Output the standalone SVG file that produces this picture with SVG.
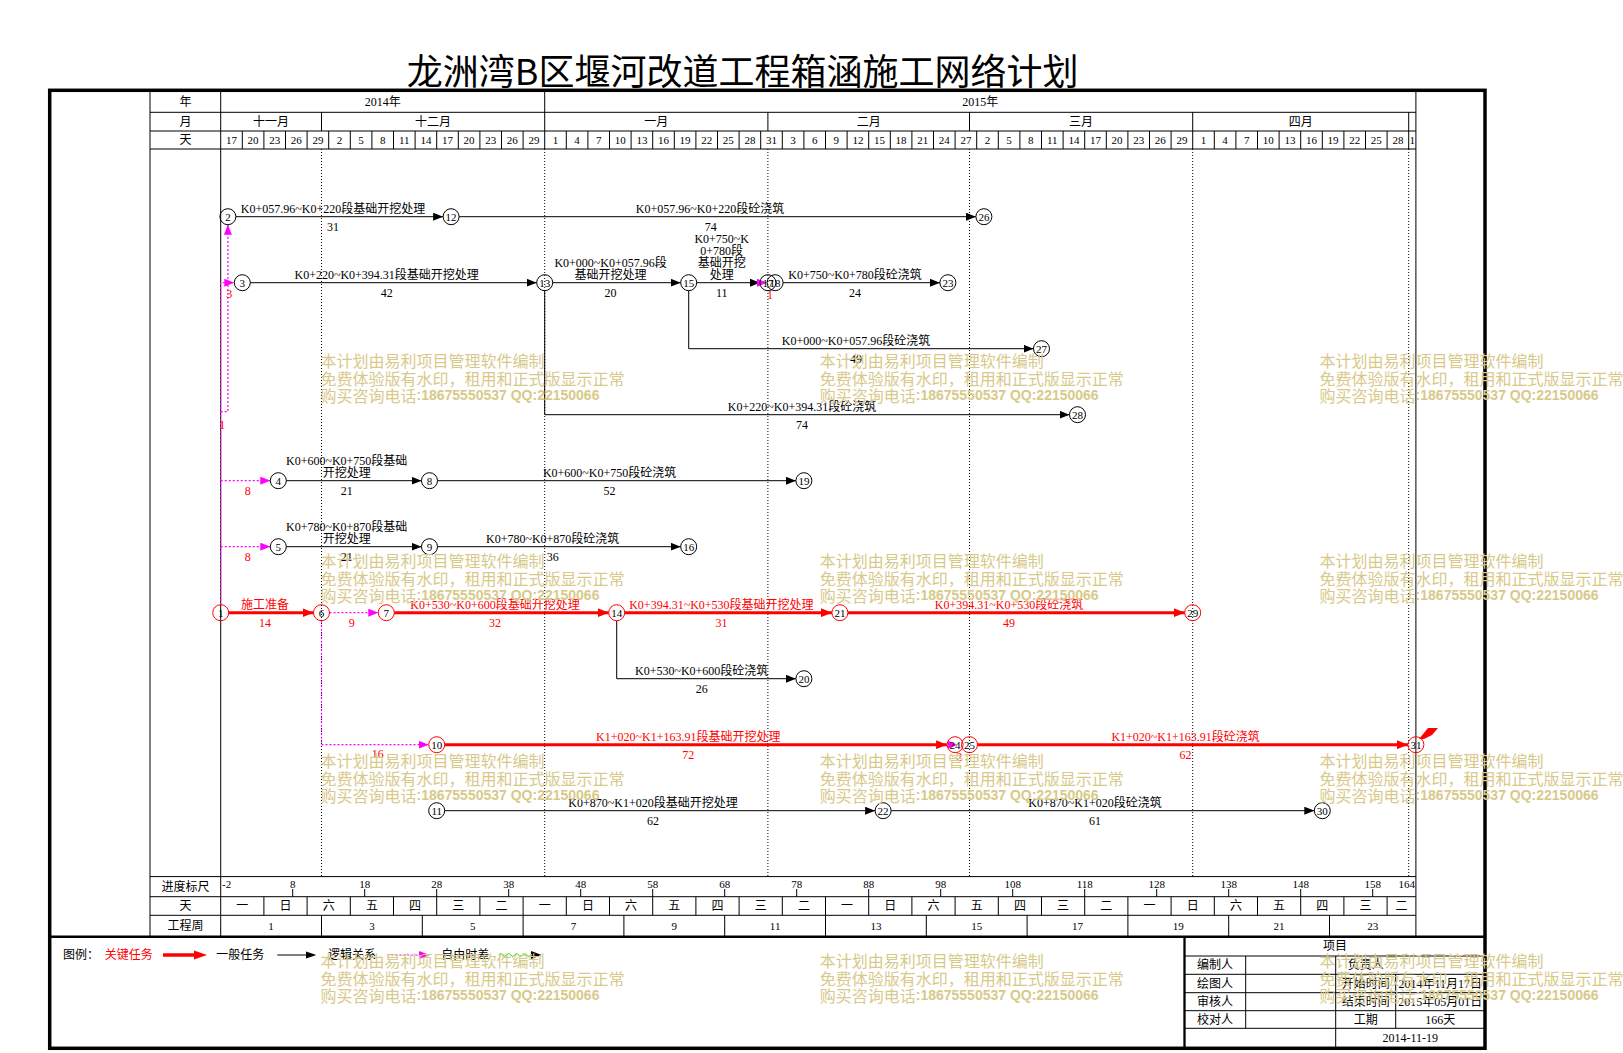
<svg xmlns="http://www.w3.org/2000/svg" width="1623" height="1053" viewBox="0 0 1623 1053">
<style>
.t{font-family:"Liberation Serif","Noto Sans CJK SC",serif;font-size:12px;text-anchor:middle;dominant-baseline:central;fill:#000}
.s{font-size:11px}
.l{text-anchor:start}
.e{text-anchor:end}
.r{fill:#ff0000}
.ln{fill:none;stroke:#000;stroke-width:1}
.dot{fill:none;stroke:#000;stroke-width:1;stroke-dasharray:1 2}
.nb{fill:none;stroke:#000;stroke-width:1;marker-end:url(#ab)}
.cr{fill:none;stroke:#ff0000;stroke-width:3;marker-end:url(#ar)}
.pk{fill:none;stroke:#ff00ff;stroke-width:1.2;stroke-dasharray:2 2;marker-end:url(#ap)}
.nd circle{fill:none;stroke:#000;stroke-width:1}
.nd.c circle{stroke:#ff0000}
.nd text{font-family:"Liberation Serif",serif;font-size:11px;text-anchor:middle;dominant-baseline:central;fill:#000}
.wm{font-family:"Noto Sans CJK SC",sans-serif;font-size:16px;fill:#d8c98a}
.wm tspan.d{font-family:"Liberation Sans",sans-serif;font-weight:bold;font-size:14px}
</style>
<defs>
<marker id="ab" viewBox="0 0 10 8" refX="10" refY="4" markerWidth="10" markerHeight="8" markerUnits="userSpaceOnUse" orient="auto"><path d="M0,0L10,4L0,8z" fill="#000"/></marker>
<marker id="ar" viewBox="0 0 11 9" refX="11" refY="4.5" markerWidth="11" markerHeight="9" markerUnits="userSpaceOnUse" orient="auto"><path d="M0,0L11,4.5L0,9z" fill="#ff0000"/></marker>
<marker id="ap" viewBox="0 0 10 8" refX="10" refY="4" markerWidth="10" markerHeight="8" markerUnits="userSpaceOnUse" orient="auto"><path d="M0,0L10,4L0,8z" fill="#ff00ff"/></marker>
</defs>
<rect width="1623" height="1053" fill="#fff"/>
<text x="742.6" y="68.5" class="t" style="font-size:36px;font-family:'Noto Sans CJK SC',sans-serif">龙洲湾B区堰河改道工程箱涵施工网络计划</text>

<g id="frame">
<rect x="49.7" y="90.3" width="1435.3" height="958" fill="none" stroke="#000" stroke-width="3.5"/>
<path d="M49.7 936.7H1485" stroke="#000" stroke-width="2.5"/>
</g>

<g id="grid">
<path class="ln" d="M150 112.3H1415.9M150 131H1415.9M150 149H1415.9M150 876.6H1415.9M150 896.7H1415.9M150 915.3H1415.9"/>
<path class="ln" d="M150 90V936.7M220.7 90V936.7M1415.9 90V936.7" stroke-width="1.3"/>
<path class="ln" d="M544.7 92V131M321.5 112.3V131M767.9 112.3V131M969.5 112.3V131M1192.7 112.3V131M1408.7 112.3V131"/>
<path class="ln" d="M242.3 131V149M263.9 131V149M285.5 131V149M307.1 131V149M328.7 131V149M350.3 131V149M371.9 131V149M393.5 131V149M415.1 131V149M436.7 131V149M458.3 131V149M479.9 131V149M501.5 131V149M523.1 131V149M544.7 131V149M566.3 131V149M587.9 131V149M609.5 131V149M631.1 131V149M652.7 131V149M674.3 131V149M695.9 131V149M717.5 131V149M739.1 131V149M760.7 131V149M782.3 131V149M803.9 131V149M825.5 131V149M847.1 131V149M868.7 131V149M890.3 131V149M911.9 131V149M933.5 131V149M955.1 131V149M976.7 131V149M998.3 131V149M1019.9 131V149M1041.5 131V149M1063.1 131V149M1084.7 131V149M1106.3 131V149M1127.9 131V149M1149.5 131V149M1171.1 131V149M1192.7 131V149M1214.3 131V149M1235.9 131V149M1257.5 131V149M1279.1 131V149M1300.7 131V149M1322.3 131V149M1343.9 131V149M1365.5 131V149M1387.1 131V149M1408.7 131V149"/>
<path class="dot" d="M321.5 149V876.6M544.7 149V876.6M767.9 149V876.6M969.5 149V876.6M1192.7 149V876.6M1408.7 149V876.6"/>
<path class="ln" d="M292.7 889V896.7M364.7 889V896.7M436.7 889V896.7M508.7 889V896.7M580.7 889V896.7M652.7 889V896.7M724.7 889V896.7M796.7 889V896.7M868.7 889V896.7M940.7 889V896.7M1012.7 889V896.7M1084.7 889V896.7M1156.7 889V896.7M1228.7 889V896.7M1300.7 889V896.7M1372.7 889V896.7"/>
<path class="ln" d="M263.9 896.7V915.3M307.1 896.7V915.3M350.3 896.7V915.3M393.5 896.7V915.3M436.7 896.7V915.3M479.9 896.7V915.3M523.1 896.7V915.3M566.3 896.7V915.3M609.5 896.7V915.3M652.7 896.7V915.3M695.9 896.7V915.3M739.1 896.7V915.3M782.3 896.7V915.3M825.5 896.7V915.3M868.7 896.7V915.3M911.9 896.7V915.3M955.1 896.7V915.3M998.3 896.7V915.3M1041.5 896.7V915.3M1084.7 896.7V915.3M1127.9 896.7V915.3M1171.1 896.7V915.3M1214.3 896.7V915.3M1257.5 896.7V915.3M1300.7 896.7V915.3M1343.9 896.7V915.3M1387.1 896.7V915.3"/>
<path class="ln" d="M321.5 915.3V936.7M422.3 915.3V936.7M523.1 915.3V936.7M623.9 915.3V936.7M724.7 915.3V936.7M825.5 915.3V936.7M926.3 915.3V936.7M1027.1 915.3V936.7M1127.9 915.3V936.7M1228.7 915.3V936.7M1329.5 915.3V936.7"/>
</g>

<g id="header-text">
<text class="t" x="185.4" y="102.3">年</text>
<text class="t" x="185.4" y="121.7">月</text>
<text class="t" x="185.4" y="140">天</text>
<text class="t" x="382.7" y="102.3">2014年</text>
<text class="t" x="980.3" y="102.3">2015年</text>
<text class="t" x="271.1" y="121.7">十一月</text>
<text class="t" x="433.1" y="121.7">十二月</text>
<text class="t" x="656.3" y="121.7">一月</text>
<text class="t" x="868.7" y="121.7">二月</text>
<text class="t" x="1081.1" y="121.7">三月</text>
<text class="t" x="1300.7" y="121.7">四月</text>
<g class="t s">
<text class="t s" x="231.5" y="140">17</text><text class="t s" x="253.1" y="140">20</text><text class="t s" x="274.7" y="140">23</text><text class="t s" x="296.3" y="140">26</text><text class="t s" x="317.9" y="140">29</text>
<text class="t s" x="339.5" y="140">2</text><text class="t s" x="361.1" y="140">5</text><text class="t s" x="382.7" y="140">8</text><text class="t s" x="404.3" y="140">11</text><text class="t s" x="425.9" y="140">14</text><text class="t s" x="447.5" y="140">17</text><text class="t s" x="469.1" y="140">20</text><text class="t s" x="490.7" y="140">23</text><text class="t s" x="512.3" y="140">26</text><text class="t s" x="533.9" y="140">29</text>
<text class="t s" x="555.5" y="140">1</text><text class="t s" x="577.1" y="140">4</text><text class="t s" x="598.7" y="140">7</text><text class="t s" x="620.3" y="140">10</text><text class="t s" x="641.9" y="140">13</text><text class="t s" x="663.5" y="140">16</text><text class="t s" x="685.1" y="140">19</text><text class="t s" x="706.7" y="140">22</text><text class="t s" x="728.3" y="140">25</text><text class="t s" x="749.9" y="140">28</text><text class="t s" x="771.5" y="140">31</text>
<text class="t s" x="793.1" y="140">3</text><text class="t s" x="814.7" y="140">6</text><text class="t s" x="836.3" y="140">9</text><text class="t s" x="857.9" y="140">12</text><text class="t s" x="879.5" y="140">15</text><text class="t s" x="901.1" y="140">18</text><text class="t s" x="922.7" y="140">21</text><text class="t s" x="944.3" y="140">24</text><text class="t s" x="965.9" y="140">27</text>
<text class="t s" x="987.5" y="140">2</text><text class="t s" x="1009.1" y="140">5</text><text class="t s" x="1030.7" y="140">8</text><text class="t s" x="1052.3" y="140">11</text><text class="t s" x="1073.9" y="140">14</text><text class="t s" x="1095.5" y="140">17</text><text class="t s" x="1117.1" y="140">20</text><text class="t s" x="1138.7" y="140">23</text><text class="t s" x="1160.3" y="140">26</text><text class="t s" x="1181.9" y="140">29</text>
<text class="t s" x="1203.5" y="140">1</text><text class="t s" x="1225.1" y="140">4</text><text class="t s" x="1246.7" y="140">7</text><text class="t s" x="1268.3" y="140">10</text><text class="t s" x="1289.9" y="140">13</text><text class="t s" x="1311.5" y="140">16</text><text class="t s" x="1333.1" y="140">19</text><text class="t s" x="1354.7" y="140">22</text><text class="t s" x="1376.3" y="140">25</text><text class="t s" x="1397.9" y="140">28</text>
<text class="t s" x="1412.3" y="140">1</text>
</g>
</g>

<g id="footer-text">
<text class="t" x="185.4" y="886.7">进度标尺</text>
<text class="t" x="185.4" y="906">天</text>
<text class="t" x="185.4" y="926">工程周</text>
<text class="t s l" x="222" y="884">-2</text>
<text class="t s" x="292.7" y="884">8</text><text class="t s" x="364.7" y="884">18</text><text class="t s" x="436.7" y="884">28</text><text class="t s" x="508.7" y="884">38</text><text class="t s" x="580.7" y="884">48</text><text class="t s" x="652.7" y="884">58</text><text class="t s" x="724.7" y="884">68</text><text class="t s" x="796.7" y="884">78</text><text class="t s" x="868.7" y="884">88</text><text class="t s" x="940.7" y="884">98</text><text class="t s" x="1012.7" y="884">108</text><text class="t s" x="1084.7" y="884">118</text><text class="t s" x="1156.7" y="884">128</text><text class="t s" x="1228.7" y="884">138</text><text class="t s" x="1300.7" y="884">148</text><text class="t s" x="1372.7" y="884">158</text>
<text class="t s e" x="1415" y="884">164</text>
<text class="t" x="242.3" y="906">一</text><text class="t" x="285.5" y="906">日</text><text class="t" x="328.7" y="906">六</text><text class="t" x="371.9" y="906">五</text><text class="t" x="415.1" y="906">四</text><text class="t" x="458.3" y="906">三</text><text class="t" x="501.5" y="906">二</text>
<text class="t" x="544.7" y="906">一</text><text class="t" x="587.9" y="906">日</text><text class="t" x="631.1" y="906">六</text><text class="t" x="674.3" y="906">五</text><text class="t" x="717.5" y="906">四</text><text class="t" x="760.7" y="906">三</text><text class="t" x="803.9" y="906">二</text>
<text class="t" x="847.1" y="906">一</text><text class="t" x="890.3" y="906">日</text><text class="t" x="933.5" y="906">六</text><text class="t" x="976.7" y="906">五</text><text class="t" x="1019.9" y="906">四</text><text class="t" x="1063.1" y="906">三</text><text class="t" x="1106.3" y="906">二</text>
<text class="t" x="1149.5" y="906">一</text><text class="t" x="1192.7" y="906">日</text><text class="t" x="1235.9" y="906">六</text><text class="t" x="1279.1" y="906">五</text><text class="t" x="1322.3" y="906">四</text><text class="t" x="1365.5" y="906">三</text><text class="t" x="1401.5" y="906">二</text>
<text class="t s" x="271.1" y="926">1</text><text class="t s" x="371.9" y="926">3</text><text class="t s" x="472.7" y="926">5</text><text class="t s" x="573.5" y="926">7</text><text class="t s" x="674.3" y="926">9</text><text class="t s" x="775.1" y="926">11</text><text class="t s" x="875.9" y="926">13</text><text class="t s" x="976.7" y="926">15</text><text class="t s" x="1077.5" y="926">17</text><text class="t s" x="1178.3" y="926">19</text><text class="t s" x="1279.1" y="926">21</text><text class="t s" x="1372.7" y="926">23</text>
</g>

<g id="connectors">
<path class="nb" d="M235.9 216.7H443.1"/>
<path class="nb" d="M459.1 216.7H975.9"/>
<path class="nb" d="M250.3 282.7H536.7"/>
<path class="nb" d="M552.7 282.7H680.7"/>
<path class="nb" d="M696.7 282.7H760"/>
<path class="nb" d="M783.1 282.7H939.9"/>
<path class="nb" d="M688.7 290.7V348.7H1033.5"/>
<path class="nb" d="M544.7 290.7V414.7H1069.5"/>
<path class="nb" d="M286.3 480.7H421.5"/>
<path class="nb" d="M437.5 480.7H795.9"/>
<path class="nb" d="M286.3 546.7H421.5"/>
<path class="nb" d="M437.5 546.7H680.7"/>
<path class="nb" d="M616.7 620.7V678.7H795.9"/>
<path class="nb" d="M444.7 810.7H875.1"/>
<path class="nb" d="M891.1 810.7H1314.3"/>
<path class="cr" d="M228.7 612.7H313.5"/>
<path class="cr" d="M394.3 612.7H608.7"/>
<path class="cr" d="M624.7 612.7H831.9"/>
<path class="cr" d="M847.9 612.7H1184.7"/>
<path class="cr" d="M444.7 744.7H947.1"/>
<path class="cr" d="M977.5 744.7H1407.9"/>
<path class="pk" d="M220.7 604.7V282.7H234.3"/>
<path class="pk" d="M220.7 411.7H227.9V224.7"/>
<path class="pk" d="M220.7 480.7H270.3"/>
<path class="pk" d="M220.7 546.7H270.3"/>
<path class="pk" d="M329.5 612.7H378.3"/>
<path class="pk" d="M321.5 620.7V744.7H428.7"/>
<path d="M757 278.7L767 282.7L757 286.7z" fill="#ff00ff"/>
<path d="M948 740.7L957 744.7L948 748.7z" fill="#ff00ff"/>
</g>

<g id="labels">
<text class="t" x="333" y="209">K0+057.96~K0+220段基础开挖处理</text><text class="t" x="333" y="227">31</text>
<text class="t" x="710" y="209">K0+057.96~K0+220段砼浇筑</text><text class="t" x="710.7" y="226.5">74</text>
<text class="t" x="386.7" y="274.5">K0+220~K0+394.31段基础开挖处理</text><text class="t" x="386.7" y="293.3">42</text>
<text class="t" x="610.6" y="262.5">K0+000~K0+057.96段</text><text class="t" x="610.6" y="274.5">基础开挖处理</text><text class="t" x="610.6" y="293.3">20</text>
<text class="t" x="721.7" y="238.5">K0+750~K</text><text class="t" x="721.7" y="250.5">0+780段</text><text class="t" x="721.7" y="262.5">基础开挖</text><text class="t" x="721.7" y="274.5">处理</text><text class="t" x="721.7" y="293.3">11</text>
<text class="t" x="855" y="274.5">K0+750~K0+780段砼浇筑</text><text class="t" x="855" y="293.3">24</text>
<text class="t" x="856" y="340.5">K0+000~K0+057.96段砼浇筑</text><text class="t" x="856" y="359">49</text>
<text class="t" x="802" y="406.5">K0+220~K0+394.31段砼浇筑</text><text class="t" x="802" y="425">74</text>
<text class="t" x="346.7" y="460.5">K0+600~K0+750段基础</text><text class="t" x="346.7" y="472.5">开挖处理</text><text class="t" x="346.7" y="490.5">21</text>
<text class="t" x="609.6" y="472.5">K0+600~K0+750段砼浇筑</text><text class="t" x="609.6" y="490.5">52</text>
<text class="t" x="346.7" y="526.5">K0+780~K0+870段基础</text><text class="t" x="346.7" y="538.5">开挖处理</text><text class="t" x="346.7" y="556.5">21</text>
<text class="t" x="552.7" y="538.5">K0+780~K0+870段砼浇筑</text><text class="t" x="552.7" y="556.5">36</text>
<text class="t r" x="265" y="604.5">施工准备</text><text class="t r" x="265" y="623">14</text>
<text class="t r" x="495" y="604.5">K0+530~K0+600段基础开挖处理</text><text class="t r" x="495" y="623">32</text>
<text class="t r" x="721.4" y="604.5">K0+394.31~K0+530段基础开挖处理</text><text class="t r" x="721.4" y="623">31</text>
<text class="t r" x="1009" y="604.5">K0+394.31~K0+530段砼浇筑</text><text class="t r" x="1009" y="623">49</text>
<text class="t" x="701.7" y="670.5">K0+530~K0+600段砼浇筑</text><text class="t" x="701.7" y="688.5">26</text>
<text class="t r" x="688.3" y="736.5">K1+020~K1+163.91段基础开挖处理</text><text class="t r" x="688.3" y="754.5">72</text>
<text class="t r" x="1185.6" y="736.5">K1+020~K1+163.91段砼浇筑</text><text class="t r" x="1185.6" y="754.5">62</text>
<text class="t" x="653" y="802.5">K0+870~K1+020段基础开挖处理</text><text class="t" x="653" y="820.5">62</text>
<text class="t" x="1095" y="802.5">K0+870~K1+020段砼浇筑</text><text class="t" x="1095" y="820.5">61</text>
<text class="t r" x="229.3" y="294">3</text>
<text class="t r" x="222.3" y="425">1</text>
<text class="t r" x="247.7" y="491">8</text>
<text class="t r" x="247.7" y="557">8</text>
<text class="t r" x="351.7" y="623.3">9</text>
<text class="t r" x="377.7" y="754.3">16</text>
<text class="t r" x="770" y="295">1</text>
<text class="t r" x="959.3" y="756.7">2</text>
</g>

<g id="node-1" class="nd c"><circle cx="220.7" cy="612.7" r="8"/><text x="220.7" y="612.7">1</text></g>
<g id="node-2" class="nd"><circle cx="227.9" cy="216.7" r="8"/><text x="227.9" y="216.7">2</text></g>
<g id="node-3" class="nd"><circle cx="242.3" cy="282.7" r="8"/><text x="242.3" y="282.7">3</text></g>
<g id="node-4" class="nd"><circle cx="278.3" cy="480.7" r="8"/><text x="278.3" y="480.7">4</text></g>
<g id="node-5" class="nd"><circle cx="278.3" cy="546.7" r="8"/><text x="278.3" y="546.7">5</text></g>
<g id="node-6" class="nd c"><circle cx="321.5" cy="612.7" r="8"/><text x="321.5" y="612.7">6</text></g>
<g id="node-7" class="nd c"><circle cx="386.3" cy="612.7" r="8"/><text x="386.3" y="612.7">7</text></g>
<g id="node-8" class="nd"><circle cx="429.5" cy="480.7" r="8"/><text x="429.5" y="480.7">8</text></g>
<g id="node-9" class="nd"><circle cx="429.5" cy="546.7" r="8"/><text x="429.5" y="546.7">9</text></g>
<g id="node-10" class="nd c"><circle cx="436.7" cy="744.7" r="8"/><text x="436.7" y="744.7">10</text></g>
<g id="node-11" class="nd"><circle cx="436.7" cy="810.7" r="8"/><text x="436.7" y="810.7">11</text></g>
<g id="node-12" class="nd"><circle cx="451.1" cy="216.7" r="8"/><text x="451.1" y="216.7">12</text></g>
<g id="node-13" class="nd"><circle cx="544.7" cy="282.7" r="8"/><text x="544.7" y="282.7">13</text></g>
<g id="node-14" class="nd c"><circle cx="616.7" cy="612.7" r="8"/><text x="616.7" y="612.7">14</text></g>
<g id="node-15" class="nd"><circle cx="688.7" cy="282.7" r="8"/><text x="688.7" y="282.7">15</text></g>
<g id="node-16" class="nd"><circle cx="688.7" cy="546.7" r="8"/><text x="688.7" y="546.7">16</text></g>
<g id="node-17" class="nd"><circle cx="767.9" cy="282.7" r="8"/><text x="767.9" y="282.7">17</text></g>
<g id="node-18" class="nd"><circle cx="775.1" cy="282.7" r="8"/><text x="775.1" y="282.7">18</text></g>
<g id="node-19" class="nd"><circle cx="803.9" cy="480.7" r="8"/><text x="803.9" y="480.7">19</text></g>
<g id="node-20" class="nd"><circle cx="803.9" cy="678.7" r="8"/><text x="803.9" y="678.7">20</text></g>
<g id="node-21" class="nd c"><circle cx="839.9" cy="612.7" r="8"/><text x="839.9" y="612.7">21</text></g>
<g id="node-22" class="nd"><circle cx="883.1" cy="810.7" r="8"/><text x="883.1" y="810.7">22</text></g>
<g id="node-23" class="nd"><circle cx="947.9" cy="282.7" r="8"/><text x="947.9" y="282.7">23</text></g>
<g id="node-24" class="nd c"><circle cx="955.1" cy="744.7" r="8"/><text x="955.1" y="744.7">24</text></g>
<g id="node-25" class="nd c"><circle cx="969.5" cy="744.7" r="8"/><text x="969.5" y="744.7">25</text></g>
<g id="node-26" class="nd"><circle cx="983.9" cy="216.7" r="8"/><text x="983.9" y="216.7">26</text></g>
<g id="node-27" class="nd"><circle cx="1041.5" cy="348.7" r="8"/><text x="1041.5" y="348.7">27</text></g>
<g id="node-28" class="nd"><circle cx="1077.5" cy="414.7" r="8"/><text x="1077.5" y="414.7">28</text></g>
<g id="node-29" class="nd c"><circle cx="1192.7" cy="612.7" r="8"/><text x="1192.7" y="612.7">29</text></g>
<g id="node-30" class="nd"><circle cx="1322.3" cy="810.7" r="8"/><text x="1322.3" y="810.7">30</text></g>
<g id="node-31" class="nd c"><circle cx="1415.9" cy="744.7" r="8"/><text x="1415.9" y="744.7">31</text><polygon points="1419,739 1428,728 1438,728 1432,735 1424,739" fill="#ff0000"/></g>

<g id="legend">
<text class="t l" x="63" y="955">图例：</text>
<text class="t l r" x="104.7" y="955">关键任务</text>
<path d="M163 955H195" stroke="#ff0000" stroke-width="3.5"/><path d="M194 950.5L207 955L194 959.5z" fill="#ff0000"/>
<text class="t l" x="216.3" y="955">一般任务</text>
<path d="M277.3 955H307" stroke="#000" stroke-width="1"/><path d="M306 951.5L316.3 955L306 958.5z" fill="#000"/>
<text class="t l" x="328" y="955">逻辑关系</text>
<path d="M387.3 955H420" stroke="#ff00ff" stroke-width="1.2" stroke-dasharray="2 2"/><path d="M419 951L429.7 955L419 959z" fill="#ff00ff"/>
<text class="t l" x="441.3" y="955">自由时差</text>
<path d="M498.7 955q2 -3 4 0t4 0t4 0t4 0t4 0t4 0t4 0t4 0" fill="none" stroke="#00e000" stroke-width="1"/><path d="M531 951L541.7 955L531 959z" fill="#000"/>
</g>

<g id="info">
<path d="M1184.5 936.7V1048.3" stroke="#000" stroke-width="2.3"/>
<path class="ln" d="M1185 956H1485M1185 974.3H1485M1185 992.7H1485M1185 1010.7H1485M1185 1028.3H1485M1245.7 956V1028.3M1335.7 956V1048.3M1395.7 974.3V1028.3"/>
<text class="t" x="1335" y="946">项目</text>
<text class="t" x="1215" y="965.2">编制人</text>
<text class="t" x="1215" y="983.5">绘图人</text>
<text class="t" x="1215" y="1001.7">审核人</text>
<text class="t" x="1215" y="1019.5">校对人</text>
<text class="t" x="1365.7" y="965.2">负责人</text>
<text class="t" x="1365.7" y="983.5">开始时间</text>
<text class="t" x="1440.3" y="983.5">2014年11月17日</text>
<text class="t" x="1365.7" y="1001.7">结束时间</text>
<text class="t" x="1440.3" y="1001.7">2015年05月01日</text>
<text class="t" x="1365.7" y="1019.5">工期</text>
<text class="t" x="1440.3" y="1019.5">166天</text>
<text class="t" x="1410.3" y="1038.3">2014-11-19</text>
</g>

<g id="watermarks" class="wm" dominant-baseline="central">
<g transform="translate(320.5 360)"><text y="0">本计划由易利项目管理软件编制</text><text y="17.5">免费体验版有水印，租用和正式版显示正常</text><text y="35">购买咨询电话<tspan class="d">:18675550537 QQ:22150066</tspan></text></g>
<g transform="translate(819.7 360)"><text y="0">本计划由易利项目管理软件编制</text><text y="17.5">免费体验版有水印，租用和正式版显示正常</text><text y="35">购买咨询电话<tspan class="d">:18675550537 QQ:22150066</tspan></text></g>
<g transform="translate(1319.6 360)"><text y="0">本计划由易利项目管理软件编制</text><text y="17.5">免费体验版有水印，租用和正式版显示正常</text><text y="35">购买咨询电话<tspan class="d">:18675550537 QQ:22150066</tspan></text></g>
<g transform="translate(320.5 560)"><text y="0">本计划由易利项目管理软件编制</text><text y="17.5">免费体验版有水印，租用和正式版显示正常</text><text y="35">购买咨询电话<tspan class="d">:18675550537 QQ:22150066</tspan></text></g>
<g transform="translate(819.7 560)"><text y="0">本计划由易利项目管理软件编制</text><text y="17.5">免费体验版有水印，租用和正式版显示正常</text><text y="35">购买咨询电话<tspan class="d">:18675550537 QQ:22150066</tspan></text></g>
<g transform="translate(1319.6 560)"><text y="0">本计划由易利项目管理软件编制</text><text y="17.5">免费体验版有水印，租用和正式版显示正常</text><text y="35">购买咨询电话<tspan class="d">:18675550537 QQ:22150066</tspan></text></g>
<g transform="translate(320.5 760)"><text y="0">本计划由易利项目管理软件编制</text><text y="17.5">免费体验版有水印，租用和正式版显示正常</text><text y="35">购买咨询电话<tspan class="d">:18675550537 QQ:22150066</tspan></text></g>
<g transform="translate(819.7 760)"><text y="0">本计划由易利项目管理软件编制</text><text y="17.5">免费体验版有水印，租用和正式版显示正常</text><text y="35">购买咨询电话<tspan class="d">:18675550537 QQ:22150066</tspan></text></g>
<g transform="translate(1319.6 760)"><text y="0">本计划由易利项目管理软件编制</text><text y="17.5">免费体验版有水印，租用和正式版显示正常</text><text y="35">购买咨询电话<tspan class="d">:18675550537 QQ:22150066</tspan></text></g>
<g transform="translate(320.5 960)"><text y="0">本计划由易利项目管理软件编制</text><text y="17.5">免费体验版有水印，租用和正式版显示正常</text><text y="35">购买咨询电话<tspan class="d">:18675550537 QQ:22150066</tspan></text></g>
<g transform="translate(819.7 960)"><text y="0">本计划由易利项目管理软件编制</text><text y="17.5">免费体验版有水印，租用和正式版显示正常</text><text y="35">购买咨询电话<tspan class="d">:18675550537 QQ:22150066</tspan></text></g>
<g transform="translate(1319.6 960)"><text y="0">本计划由易利项目管理软件编制</text><text y="17.5">免费体验版有水印，租用和正式版显示正常</text><text y="35">购买咨询电话<tspan class="d">:18675550537 QQ:22150066</tspan></text></g>
</g>
</svg>
